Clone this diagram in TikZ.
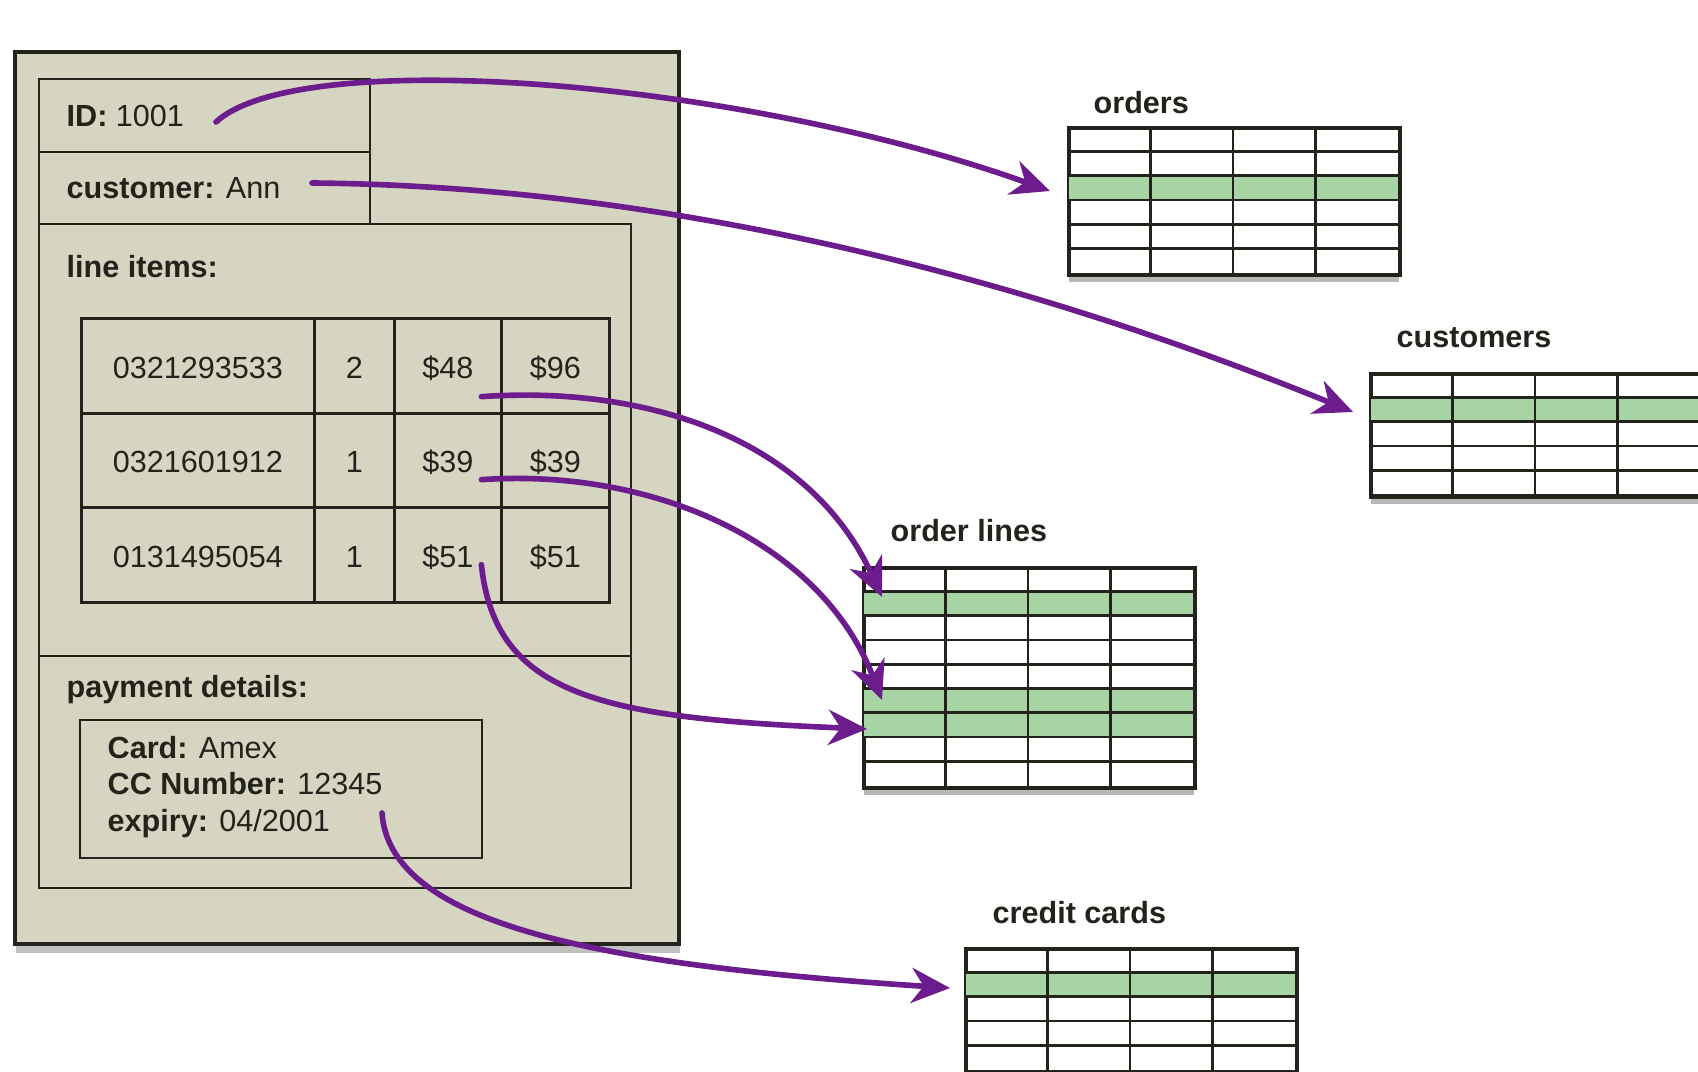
\documentclass[tikz,border=0pt]{standalone}
\usepackage{fontspec}
\setmainfont{Liberation Sans}
\usepackage{tikz}
\usetikzlibrary{positioning,arrows.meta,calc,matrix,shadows}

\definecolor{paper}{RGB}{214,213,194}
\definecolor{rowgreen}{RGB}{168,213,166}
\definecolor{linkpurple}{RGB}{108,28,140}
\definecolor{ink}{RGB}{35,35,28}
\newcommand{\dfont}{\fontsize{8.7}{10.3}\selectfont}

% table box: name, x, y, rows, green rows
\newcommand{\dbtable}[5]{%
  \node[tbl, minimum height=#4*0.243cm] (#1) at (#2,#3) {};
  \foreach \g in {#5}
    \fill[rowgreen] ($(#1.north west)+(0,{(\g-1)*0.243})$) rectangle ++(3.3,0.243);
  \foreach \r in {2,...,#4}
    \draw[gridline] ($(#1.north west)+(0,{(\r-1)*0.243})$) -- ++(3.3,0);
  \foreach \c in {1,2,3}
    \draw[gridline] ($(#1.north west)+(\c*0.825,0)$) -- ++(0,{#4*0.243});
  \draw[gridline] (#1.north west) rectangle (#1.south east);
}

\begin{document}
\begin{tikzpicture}[
    x=1cm, y=-1cm,
    txt/.style={font=\dfont, text=ink, inner sep=0pt, anchor=west},
    tlabel/.style={font=\dfont\bfseries, text=ink, inner sep=0pt, anchor=west},
    field/.style={draw=ink, line width=0.8pt, anchor=north west, inner sep=0pt, outer sep=0pt},
    docbox/.style={draw=ink, fill=paper, line width=1.1pt, anchor=north west, inner sep=0pt,
        drop shadow={shadow xshift=0.4pt, shadow yshift=-2.5pt, opacity=0.35, fill=black!70}},
    tbl/.style={draw=ink, fill=white, line width=0.8pt, minimum width=3.3cm, anchor=north west,
        inner sep=0pt, drop shadow={shadow xshift=0pt, shadow yshift=-2.2pt, opacity=0.4, fill=black!70}},
    gridline/.style={draw=ink, line width=0.75pt},
    itemgrid/.style={matrix of nodes, inner sep=0pt, outer sep=0pt, column sep=-0.8pt, row sep=-0.8pt,
        nodes={draw=ink, line width=0.8pt, font=\dfont, text=ink, anchor=center,
            text height=1.6ex, text depth=0.3ex, minimum height=0.945cm, inner sep=0pt},
        column 1/.style={nodes={minimum width=2.33cm}},
        column 2/.style={nodes={minimum width=0.80cm}},
        column 3/.style={nodes={minimum width=1.07cm}},
        column 4/.style={nodes={minimum width=1.08cm}}},
    link/.style={draw=linkpurple, line width=1.6pt, line cap=round,
        -{Stealth[length=11pt,width=10pt,inset=3.5pt]}}
]
\fill[white] (0,0) rectangle (16.98,10.72);
\useasboundingbox (0,0) rectangle (16.98,10.72);

% === Aggregate: the order document ===
\node[docbox, minimum width=6.64cm, minimum height=8.92cm] (order) at (0.13,0.50) {};

\node[field, minimum width=3.31cm, minimum height=0.73cm] (idBox) at (0.39,0.79) {};
\node[field, minimum width=3.31cm, minimum height=0.72cm, below=0pt of idBox] (custBox) {};
\node[field, minimum width=5.92cm, minimum height=4.32cm, below right=0pt and 0pt of custBox.south west] (itemsBox) {};
\node[field, minimum width=5.92cm, minimum height=2.32cm, below=0pt of itemsBox] (payBox) {};
\node[field, minimum width=4.02cm, minimum height=1.38cm] (cardBox) at (0.80,7.20) {};

\node[txt] (idText) at (0.66,1.155) {\textbf{ID:} 1001};
\node[txt] (custText) at (0.66,1.88) {\textbf{customer:} Ann};
\node[txt] (itemsText) at (0.66,2.67) {\textbf{line items:}};
\node[txt] (payText) at (0.66,6.90) {\textbf{payment details:}};
\node[txt, align=left] (cardText) at (1.07,7.87)
    {\textbf{Card:} Amex\\\textbf{CC Number:} 12345\\\textbf{expiry:} 04/2001};

% === Line items grid ===
\matrix[itemgrid, anchor=north west] (items) at (0.80,3.175) {
    0321293533 & 2 & \$48 & \$96 \\
    0321601912 & 1 & \$39 & \$39 \\
    0131495054 & 1 & \$51 & \$51 \\
};

% === Relational tables ===
\dbtable{orders}{10.68}{1.27}{6}{3}
\dbtable{customers}{13.70}{3.73}{5}{2}
\dbtable{orderLines}{8.63}{5.67}{9}{2,6,7}
\dbtable{creditCards}{9.65}{9.48}{5}{2}

\node[tlabel] (ordersLbl) at (10.93,1.03) {orders};
\node[tlabel] (customersLbl) at (13.96,3.38) {customers};
\node[tlabel] (orderLinesLbl) at (8.90,5.31) {order lines};
\node[tlabel] (creditCardsLbl) at (9.92,9.13) {credit cards};

% === Link ends ===
\coordinate (idOut) at (2.16,1.22);
\coordinate (custOut) at (3.12,1.83);
\coordinate (lineA) at ($(items-1-3.center)+(0.335,0.305)$);
\coordinate (lineB) at ($(items-2-3.center)+(0.335,0.19)$);
\coordinate (lineC) at ($(items-3-3.center)+(0.335,0.095)$);
\coordinate (cardOut) at (3.82,8.13);

\coordinate (ordersIn) at ($(orders.north west)+(-0.18,0.64)$);
\coordinate (customersIn) at ($(customers.north west)+(-0.17,0.39)$);
\coordinate (linesInA) at ($(orderLines.north west)+(0.19,0.30)$);
\coordinate (linesInB) at ($(orderLines.north west)+(0.19,1.33)$);
\coordinate (linesInC) at ($(orderLines.north west)+(0.04,1.62)$);
\coordinate (cardsIn) at ($(creditCards.north west)+(-0.15,0.40)$);

% === Mapping arrows ===
\draw[link] (idOut) .. controls (3.0,0.45) and (7.4,0.80) .. (ordersIn);
\draw[link] (custOut) .. controls (6.5,1.86) and (10.0,2.68) .. (customersIn);
\draw[link] (lineA) .. controls (6.5,3.85) and (8.1,4.40) .. (linesInA);
\draw[link] (lineB) .. controls (6.5,4.68) and (8.2,5.40) .. (linesInB);
\draw[link] (lineC) .. controls (4.95,6.95) and (6.0,7.18) .. (linesInC);
\draw[link] (cardOut) .. controls (3.9,9.25) and (6.0,9.65) .. (cardsIn);
\end{tikzpicture}
\end{document}
